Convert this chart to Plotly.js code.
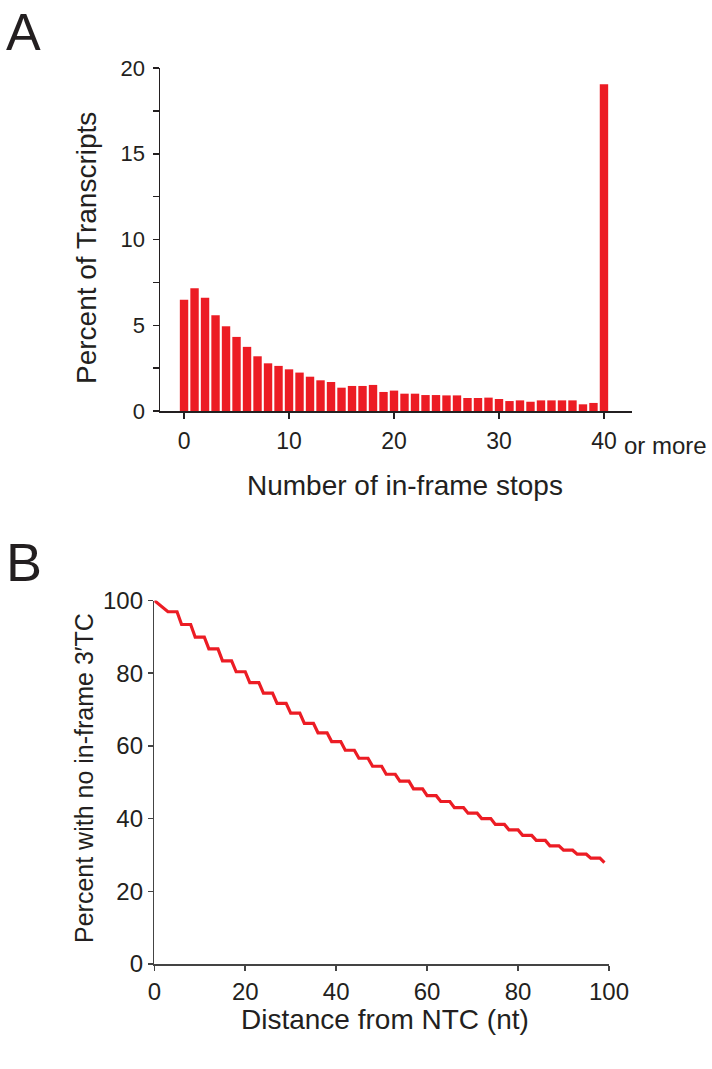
<!DOCTYPE html>
<html>
<head>
<meta charset="utf-8">
<script src="https://cdn.plot.ly/plotly-3.0.1.min.js"></script>
<style>html,body{margin:0;padding:0;background:#fff;}#chart{width:712px;height:1069px;}</style>
</head>
<body>
<div id="chart"></div>
<script>
// ---- Panel A data: percent of transcripts by number of in-frame stops ----
const stopCounts = [0,1,2,3,4,5,6,7,8,9,10,11,12,13,14,15,16,17,18,19,20,21,22,23,24,25,26,27,28,29,30,31,32,33,34,35,36,37,38,39,40];
const percentTranscripts = [6.48,7.16,6.6,5.58,4.94,4.32,3.74,3.19,2.78,2.63,2.43,2.24,2.0,1.79,1.69,1.36,1.46,1.46,1.52,1.11,1.19,1.01,1.01,0.93,0.93,0.91,0.91,0.76,0.76,0.78,0.70,0.58,0.62,0.54,0.62,0.62,0.62,0.62,0.39,0.47,19.05];
const xTickValsA = [0,10,20,30,40];
const xTickTextA = ['0','10','20','30','40'];
const yTickValsA = [0,2.5,5,7.5,10,12.5,15,17.5,20];
const yTickTextA = ['0','','5','','10','','15','','20'];

// ---- Panel B data: percent with no in-frame 3'TC vs distance from NTC ----
const distanceNt = [0,1,2,3,4,5,6,7,8,9,10,11,12,13,14,15,16,17,18,19,20,21,22,23,24,25,26,27,28,29,30,31,32,33,34,35,36,37,38,39,40,41,42,43,44,45,46,47,48,49,50,51,52,53,54,55,56,57,58,59,60,61,62,63,64,65,66,67,68,69,70,71,72,73,74,75,76,77,78,79,80,81,82,83,84,85,86,87,88,89,90,91,92,93,94,95,96,97,98,99];
const percentNo3TC = [100,98.9,97.9,
  96.9,96.9,96.9, 93.4,93.4,93.4, 89.9,89.9,89.9, 86.7,86.7,86.7,
  83.4,83.4,83.4, 80.4,80.4,80.4, 77.4,77.4,77.4, 74.5,74.5,74.5,
  71.7,71.7,71.7, 69.0,69.0,69.0, 66.2,66.2,66.2, 63.6,63.6,63.6,
  61.2,61.2,61.2, 58.8,58.8,58.8, 56.6,56.6,56.6, 54.4,54.4,54.4,
  52.2,52.2,52.2, 50.3,50.3,50.3, 48.2,48.2,48.2, 46.3,46.3,46.3,
  44.7,44.7,44.7, 43.0,43.0,43.0, 41.5,41.5,41.5, 40.0,40.0,40.0,
  38.4,38.4,38.4, 36.9,36.9,36.9, 35.4,35.4,35.4, 34.0,34.0,34.0,
  32.5,32.5,32.5, 31.3,31.3,31.3, 30.2,30.2,30.2, 29.1,29.1,29.1,
  27.9];
const xTickValsB = [0,20,40,60,80,100];
const yTickValsB = [0,20,40,60,80,100];

const W = 712, H = 1069;
const px = v => v / W;
const py = v => 1 - v / H;
const FONT = 'Liberation Sans, Arial, Helvetica, sans-serif';
const INK = '#231f20';
const RED = '#ec1c24';

const traces = [
  {type:'bar', x:stopCounts, y:percentTranscripts, xaxis:'x', yaxis:'y',
   marker:{color:RED, line:{width:0}}, hoverinfo:'x+y'},
  {type:'scatter', mode:'lines', x:distanceNt, y:percentNo3TC, xaxis:'x2', yaxis:'y2',
   line:{color:RED, width:3.2}, cliponaxis:false}
];

const axBase = {showgrid:false, zeroline:false, showline:true, ticks:'outside',
  tickwidth:1.5, ticklen:6, linewidth:1.5, fixedrange:true};

const layout = {
  width:W, height:H, margin:{l:0,r:0,t:0,b:0},
  paper_bgcolor:'#fff', plot_bgcolor:'#fff', showlegend:false, bargap:0.2,
  font:{family:FONT, color:INK},
  xaxis:Object.assign({}, axBase, {domain:[px(160), px(632)], range:[-2.29,42.67],
    tickvals:xTickValsA, ticktext:xTickTextA, linecolor:INK, tickcolor:INK,
    tickfont:{size:23, color:INK}, anchor:'y', ticklabelstandoff:3}),
  yaxis:Object.assign({}, axBase, {domain:[py(411), py(68)], range:[0,20],
    tickvals:yTickValsA, ticktext:yTickTextA, linecolor:INK, tickcolor:INK,
    tickfont:{size:22, color:INK}, anchor:'x', ticklabelstandoff:3}),
  xaxis2:Object.assign({}, axBase, {domain:[px(154.3), px(609)], range:[0,100],
    tickvals:xTickValsB, linecolor:'#444', tickcolor:'#444', ticklen:5,
    tickfont:{size:24, color:INK}, anchor:'y2', ticklabelstandoff:1}),
  yaxis2:Object.assign({}, axBase, {domain:[py(964), py(600.5)], range:[0,100],
    tickvals:yTickValsB, linecolor:'#444', tickcolor:'#444', ticklen:5,
    tickfont:{size:24, color:INK}, anchor:'x2', ticklabelstandoff:0}),
  annotations:[
    {text:'A', xref:'paper', yref:'paper', x:px(4), y:py(32), xanchor:'left', yanchor:'middle',
     showarrow:false, font:{size:52, family:FONT, color:INK}},
    {text:'B', xref:'paper', yref:'paper', x:px(4), y:py(562), xanchor:'left', yanchor:'middle',
     showarrow:false, font:{size:54, family:FONT, color:INK}},
    {text:'Percent of Transcripts', xref:'paper', yref:'paper', x:px(86), y:py(248),
     xanchor:'center', yanchor:'middle', textangle:-90, showarrow:false,
     font:{size:28, family:FONT, color:INK}},
    {text:'Number of in-frame stops', xref:'paper', yref:'paper', x:px(405), y:py(486),
     xanchor:'center', yanchor:'middle', showarrow:false,
     font:{size:28, family:FONT, color:INK}},
    {text:'or more', xref:'paper', yref:'paper', x:px(622), y:py(445),
     xanchor:'left', yanchor:'middle', showarrow:false,
     font:{size:24, family:FONT, color:INK}},
    {text:'Percent with no in-frame 3\u2032TC', xref:'paper', yref:'paper', x:px(84), y:py(778),
     xanchor:'center', yanchor:'middle', textangle:-90, showarrow:false,
     font:{size:25, family:FONT, color:INK}},
    {text:'Distance from NTC (nt)', xref:'paper', yref:'paper', x:px(385), y:py(1019),
     xanchor:'center', yanchor:'middle', showarrow:false,
     font:{size:28, family:FONT, color:INK}}
  ]
};

Plotly.newPlot('chart', traces, layout, {staticPlot:true, displayModeBar:false});
</script>
</body>
</html>
